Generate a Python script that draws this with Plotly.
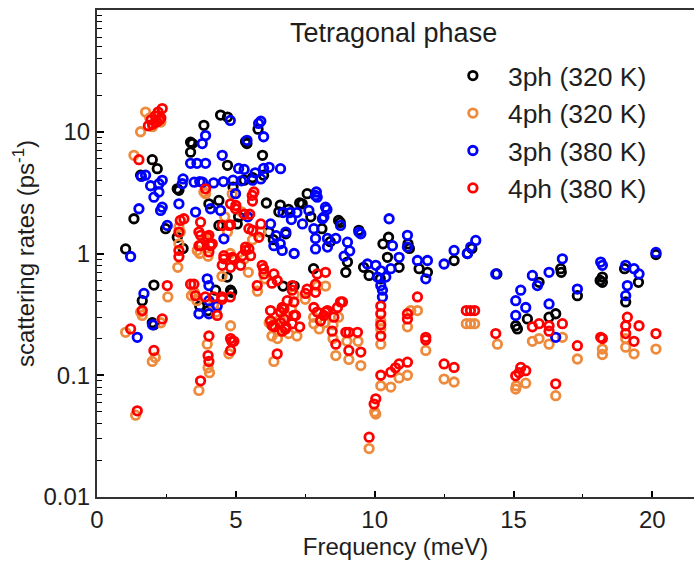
import plotly.graph_objects as go

# ---- data ----
series_names = ["3ph (320 K)", "4ph (320 K)", "3ph (380 K)", "4ph (380 K)"]
series_colors = ["#000000", "#EE8A3C", "#0000FF", "#FF0000"]

freq_3ph_320 = [1.03, 1.33, 1.57, 1.99, 2.17, 1.63, 1.99, 2.05, 2.47, 2.89, 2.89, 2.95, 3.37, 3.43, 3.37,
                3.85, 4.45, 4.70, 4.70, 5.35, 5.40, 5.80, 5.96, 4.03, 4.39, 4.39, 4.69, 4.27, 4.81, 4.85,
                3.70, 4.00, 6.19, 7.57, 7.39, 7.30, 6.60, 8.76, 8.70, 9.43, 10.50, 10.30, 11.20, 11.90,
                12.86, 13.34, 13.50, 14.40, 15.92, 16.70, 17.30, 18.20, 18.20, 19.04, 19.50, 20.13, 15.08,
                15.14, 15.50, 16.28, 16.52, 6.70, 7.10, 7.80, 8.96, 9.60, 9.80, 10.88, 10.46, 11.60, 9.02,
                5.30, 5.60, 6.00, 6.55, 6.90, 7.70, 8.10, 8.40, 6.35, 5.10, 4.90, 6.80, 19.00, 16.72, 18.12,
                11.25, 10.20, 2.05, 3.10, 5.05, 6.10]
rate_3ph_320 = [1.09, 1.93, 4.4, 5.9, 4.97, 0.41, 0.27, 0.26, 1.6, 1.36, 3.4, 3.3, 6.8, 8.0, 8.2,
                11.3, 13.7, 13.2, 5.3, 8.3, 8.0, 10.5, 6.4, 2.56, 2.73, 1.7, 0.64, 0.5, 0.5, 0.48,
                0.37, 0.34, 1.5, 3.1, 2.56, 2.6, 2.5, 1.8, 1.87, 1.55, 1.36, 1.2, 1.2, 0.7,
                0.876, 1.0, 1.1, 0.68, 0.58, 0.75, 0.45, 0.64, 0.58, 0.4, 0.58, 0.98, 0.255,
                0.24, 0.29, 0.3, 0.32, 0.54, 0.54, 0.75, 0.7, 0.77, 0.66, 0.77, 0.93, 0.75, 0.85,
                4.0, 4.2, 4.4, 2.2, 2.3, 2.0, 1.6, 1.25, 1.3, 2.0, 3.5, 1.45, 0.75, 0.7, 0.6,
                1.1, 0.62, 0.55, 1.1, 1.75, 2.6]

freq_4ph_320 = [1.33, 1.57, 1.75, 1.90, 2.00, 2.20, 2.30, 1.03, 1.39, 1.57, 1.99, 2.30, 1.63, 2.91, 2.95,
                2.95, 3.00, 3.61, 3.85, 3.91, 4.87, 4.60, 4.70, 4.80, 5.20, 3.67, 3.97, 4.00, 4.05, 4.81,
                4.75, 3.50, 3.60, 4.20, 4.50, 4.00, 3.90, 3.70, 5.78, 5.30, 5.60, 5.90, 6.37, 6.30, 6.50,
                6.20, 6.50, 6.90, 7.20, 6.60, 7.00, 7.50, 7.93, 8.23, 7.80, 7.81, 8.20, 8.50, 8.70, 8.00,
                8.60, 9.07, 9.50, 8.50, 9.00, 9.40, 10.22, 10.22, 10.22, 11.18, 11.30, 11.54, 11.84, 10.22,
                10.58, 10.88, 11.18, 10.04, 9.80, 12.50, 12.86, 13.30, 13.45, 13.60, 14.42, 15.68, 15.92,
                16.28, 16.76, 17.30, 18.20, 18.20, 19.04, 19.04, 19.34, 20.13, 15.08, 15.10, 15.44, 16.52,
                10.00, 2.55, 3.40, 2.10, 5.45, 6.05, 7.10, 4.30]
rate_4ph_320 = [6.4, 10.0, 14.5, 13.0, 11.0, 13.5, 12.0, 0.225, 0.047, 0.33, 0.13, 0.27, 0.31, 0.77, 1.2,
                1.65, 1.5, 1.06, 3.2, 3.1, 3.1, 2.0, 1.5, 1.0, 2.2, 0.075, 0.18, 0.115, 0.105, 0.255,
                0.15, 0.48, 0.41, 0.38, 0.65, 0.95, 1.3, 1.0, 0.49, 0.9, 1.3, 1.5, 0.13, 0.21, 0.2,
                0.27, 0.23, 0.22, 0.21, 0.29, 0.35, 0.42, 0.54, 0.54, 0.3, 0.265, 0.27, 0.26, 0.3, 0.24,
                0.145, 0.135, 0.12, 0.2, 0.19, 0.19, 0.18, 0.24, 0.28, 0.25, 0.34, 0.34, 0.16, 0.082,
                0.08, 0.095, 0.1, 0.048, 0.025, 0.093, 0.088, 0.265, 0.265, 0.265, 0.18, 0.19, 0.2,
                0.18, 0.205, 0.136, 0.164, 0.148, 0.2, 0.17, 0.15, 0.164, 0.077, 0.082, 0.086, 0.068,
                0.05, 0.44, 0.45, 0.14, 0.7, 0.62, 0.46, 0.33]

freq_3ph_380 = [1.21, 1.51, 1.60, 1.75, 1.93, 2.23, 2.35, 2.23, 2.05, 2.35, 2.29, 2.53, 2.95, 3.07, 3.37,
                3.60, 3.91, 3.50, 3.70, 3.80, 3.55, 3.91, 3.79, 4.80, 4.51, 5.40, 5.82, 5.90, 6.00, 4.09,
                4.45, 4.99, 4.57, 5.43, 6.25, 1.45, 1.69, 2.00, 3.97, 4.03, 4.03, 4.33, 3.67, 4.03, 4.55,
                4.90, 5.20, 5.60, 5.90, 5.10, 5.30, 6.00, 6.20, 6.61, 7.87, 7.90, 7.93, 8.23, 8.28, 6.70,
                6.95, 7.20, 7.63, 8.17, 8.12, 7.81, 8.77, 9.50, 9.43, 7.87, 8.30, 8.60, 9.02, 8.30, 7.87,
                6.37, 6.67, 7.10, 6.60, 6.80, 7.00, 10.52, 10.64, 11.18, 11.18, 10.88, 9.74, 10.04, 10.58,
                10.22, 10.10, 10.40, 10.22, 10.28, 10.28, 11.54, 11.90, 11.84, 12.50, 12.86, 13.34, 13.46,
                13.64, 14.36, 15.68, 15.86, 16.28, 16.76, 17.30, 18.14, 18.20, 19.04, 19.34, 19.52, 19.10,
                19.04, 20.13, 15.26, 15.08, 15.44, 15.08, 16.28, 16.52, 3.10, 4.20, 5.70, 6.45, 7.40,
                9.10, 8.90]
rate_3ph_380 = [0.945, 2.33, 4.3, 4.4, 3.6, 3.74, 3.99, 3.2, 2.9, 2.4, 2.26, 1.7, 2.56, 3.74, 5.5,
                5.5, 5.5, 3.85, 3.9, 3.85, 2.19, 9.3, 8.0, 12.4, 6.4, 8.5, 11.7, 12.2, 9.1, 2.33,
                2.26, 3.1, 1.32, 2.0, 1.75, 0.205, 0.47, 0.26, 0.62, 0.545, 0.41, 0.37, 0.32, 0.32, 3.9,
                4.0, 3.95, 4.0, 4.1, 5.0, 4.9, 5.0, 5.1, 4.97, 3.0, 3.2, 2.9, 2.4, 2.3, 2.17,
                2.17, 2.17, 2.26, 1.99, 1.93, 1.6, 1.7, 1.45, 1.5, 1.33, 1.33, 1.33, 1.24, 1.13, 1.09,
                1.16, 1.06, 1.0, 1.2, 1.5, 1.9, 1.93, 1.16, 1.41, 1.13, 0.93, 0.82, 0.8, 0.75,
                0.72, 0.64, 0.64, 0.545, 0.5, 0.44, 0.876, 0.876, 0.62, 0.82, 1.06, 1.0, 1.13,
                1.28, 0.68, 0.66, 0.545, 0.7, 0.905, 0.51, 0.85, 0.8, 0.8, 0.75, 0.68, 0.545,
                0.45, 1.02, 0.5, 0.41, 0.36, 0.31, 0.385, 0.205, 4.1, 3.8, 4.6, 1.4, 1.75,
                1.05, 0.95]

freq_4ph_380 = [1.51, 2.00, 2.10, 2.20, 2.35, 2.15, 1.95, 1.85, 2.25, 2.30, 3.00, 2.95, 2.95, 2.95, 3.91,
                3.13, 3.73, 3.67, 3.97, 4.15, 3.73, 4.03, 3.67, 4.09, 4.81, 4.99, 5.00, 5.59, 5.65, 5.60,
                5.30, 5.50, 4.75, 4.51, 4.81, 5.47, 5.90, 5.60, 5.83, 5.35, 5.53, 4.57, 4.87, 3.73, 4.09,
                4.03, 4.57, 4.93, 5.23, 5.47, 4.51, 4.81, 5.17, 5.35, 5.95, 6.01, 6.37, 6.49, 6.00, 6.30,
                5.77, 7.03, 7.03, 7.57, 7.87, 6.85, 7.09, 6.73, 6.25, 6.61, 7.09, 6.25, 6.61, 7.03, 6.40,
                6.80, 7.30, 7.81, 7.93, 8.23, 8.66, 8.84, 8.53, 8.47, 8.96, 9.38, 3.49, 3.55, 4.51, 4.33,
                4.81, 4.03, 4.93, 2.53, 3.37, 3.90, 4.20, 4.50, 4.80, 1.63, 2.35, 1.21, 2.05, 1.45, 3.73,
                4.00, 4.03, 4.85, 4.81, 6.73, 6.31, 6.67, 6.49, 8.23, 7.93, 7.87, 7.51, 6.67, 7.15, 6.79,
                8.17, 8.05, 8.30, 8.77, 8.60, 9.07, 9.07, 9.50, 10.22, 10.22, 10.22, 10.22, 11.18, 11.18,
                11.54, 11.84, 11.84, 10.22, 10.58, 10.88, 11.18, 10.75, 10.04, 9.98, 9.80, 12.50, 12.86,
                13.30, 13.45, 13.60, 14.36, 15.68, 15.92, 16.28, 16.28, 16.76, 17.30, 18.14, 18.20, 19.10,
                19.04, 19.04, 19.52, 19.34, 20.13, 15.08, 15.26, 15.44, 15.20, 16.52]
rate_4ph_380 = [5.9, 11.5, 13.5, 14.5, 15.5, 12.0, 12.5, 11.2, 12.5, 13.0, 1.87, 1.5, 1.06, 0.94, 3.4,
                1.93, 1.81, 1.5, 1.36, 1.2, 1.41, 1.41, 1.16, 1.2, 2.56, 2.33, 2.48, 3.0, 3.2, 2.7,
                2.1, 2.1, 1.7, 1.7, 1.72, 1.6, 1.75, 1.55, 1.36, 1.13, 0.96, 0.96, 0.93, 1.16, 1.16,
                1.03, 0.905, 0.905, 0.96, 1.09, 0.8, 0.77, 0.8, 1.06, 0.8, 0.68, 0.68, 0.6, 0.75, 0.57,
                0.545, 0.545, 0.5, 0.51, 0.48, 0.41, 0.4, 0.35, 0.34, 0.33, 0.31, 0.28, 0.27, 0.265, 0.25,
                0.25, 0.25, 0.36, 0.33, 0.33, 0.36, 0.4, 0.3, 0.23, 0.225, 0.225, 0.56, 0.45, 0.42, 0.31,
                0.2, 0.21, 0.19, 0.545, 0.56, 0.44, 0.44, 0.44, 0.44, 0.34, 0.29, 0.24, 0.16, 0.051, 0.09,
                0.145, 0.13, 0.19, 0.16, 0.29, 0.255, 0.23, 0.15, 0.70, 0.68, 0.56, 0.47, 0.36, 0.31, 0.24,
                0.31, 0.28, 0.34, 0.4, 0.18, 0.225, 0.16, 0.155, 0.37, 0.32, 0.26, 0.21, 0.32, 0.29,
                0.44, 0.205, 0.195, 0.1, 0.106, 0.124, 0.128, 0.115, 0.064, 0.058, 0.031, 0.124, 0.116,
                0.34, 0.34, 0.34, 0.22, 0.25, 0.265, 0.255, 0.23, 0.265, 0.175, 0.205, 0.2, 0.3,
                0.255, 0.22, 0.255, 0.19, 0.22, 0.099, 0.116, 0.109, 0.105, 0.085]

x_tick_vals = [0, 5, 10, 15, 20]
x_minor_vals = [2.5, 7.5, 12.5, 17.5]
y_tick_vals = [0.01, 0.1, 1, 10, 100]
y_tick_text = ["0.01", "0.1", "1", "10", "100"]
y_minor_vals = [m * d for d in (0.01, 0.1, 1, 10) for m in range(2, 10)]

title_text = "Tetragonal phase"
x_title = "Frequency (meV)"
y_title = "scattering rates (ps<sup>-1</sup>)"

X_RANGE = [0, 21.5]
Y_RANGE = [-2, 2]

# ---- figure ----
FONT = "Arial, 'Liberation Sans', sans-serif"
TXT = "#1e1e1e"
xs = [freq_3ph_320, freq_4ph_320, freq_3ph_380, freq_4ph_380]
ys = [rate_3ph_320, rate_4ph_320, rate_3ph_380, rate_4ph_380]

fig = go.Figure()
for name, color, x, y in zip(series_names, series_colors, xs, ys):
    fig.add_trace(go.Scatter(
        x=x, y=y, mode="markers", name=name,
        marker=dict(symbol="circle-open", size=8.5, color=color, line=dict(width=2.8, color=color)),
    ))
# empty helper trace so the minor-tick overlay axes are drawn
fig.add_trace(go.Scatter(x=[], y=[], xaxis="x2", yaxis="y2", showlegend=False, hoverinfo="skip"))

fig.update_layout(
    width=694, height=565,
    margin=dict(l=97, r=0, t=10, b=68, autoexpand=False),
    paper_bgcolor="white", plot_bgcolor="white",
    font=dict(family=FONT, size=24, color=TXT),
    showlegend=True,
    legend=dict(x=0.571, y=0.914, xanchor="left", yanchor="top",
                bgcolor="rgba(0,0,0,0)", font=dict(size=26.5, color=TXT),
                itemwidth=60, tracegroupgap=0),
    annotations=[dict(text=title_text, x=0.496, y=0.953, xref="paper", yref="paper",
                      xanchor="center", yanchor="middle", showarrow=False,
                      font=dict(size=27, color=TXT))],
    xaxis=dict(
        range=X_RANGE, tickvals=x_tick_vals, ticks="inside", ticklen=6, tickwidth=1.5,
        tickcolor="black", showline=True, linecolor="#333333", linewidth=2, mirror=True,
        showgrid=False, zeroline=False, automargin=False,
        title=dict(text=x_title, font=dict(size=24), standoff=2),
        tickfont=dict(size=24),
    ),
    yaxis=dict(
        type="log", range=Y_RANGE, tickvals=y_tick_vals, ticktext=y_tick_text,
        ticks="inside", ticklen=7, tickwidth=1.5, tickcolor="black",
        showline=True, linecolor="#333333", linewidth=2, mirror=False,
        showgrid=False, zeroline=False, automargin=False,
        title=dict(text=y_title, font=dict(size=24), standoff=2),
        tickfont=dict(size=24),
    ),
    xaxis2=dict(
        overlaying="x", anchor="y2", side="bottom", range=X_RANGE,
        tickmode="array", tickvals=x_minor_vals, ticktext=[""] * len(x_minor_vals),
        ticks="inside", ticklen=3.5, tickwidth=1.3, tickcolor="black",
        showline=False, showgrid=False, zeroline=False, showticklabels=False, automargin=False,
    ),
    yaxis2=dict(
        overlaying="y", anchor="x2", side="left", type="log", range=Y_RANGE,
        tickmode="array", tickvals=y_minor_vals, ticktext=[""] * len(y_minor_vals),
        ticks="inside", ticklen=4.5, tickwidth=1.3, tickcolor="black",
        showline=False, showgrid=False, zeroline=False, showticklabels=False, automargin=False,
    ),
)

fig.write_html(
    "out.html",
    config={"displayModeBar": False},
    post_script="document.body.style.margin='0';document.body.style.overflow='hidden';",
)
